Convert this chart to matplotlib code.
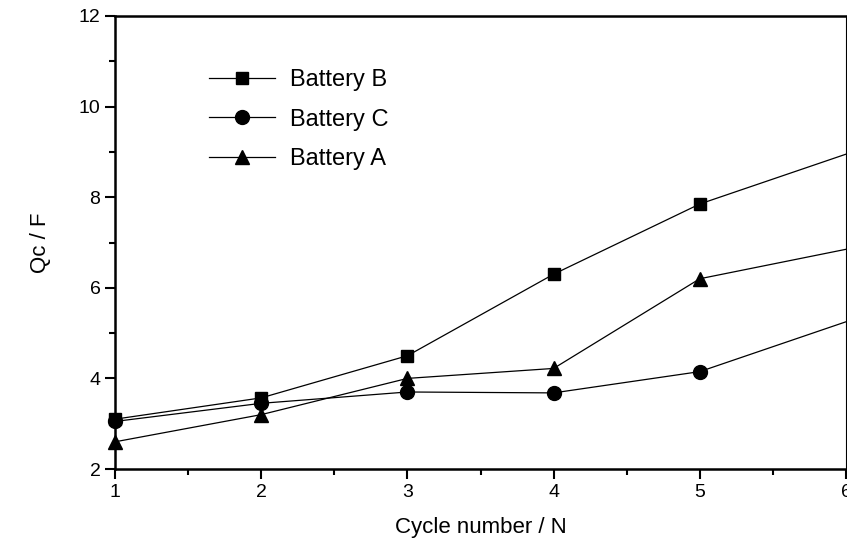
import matplotlib
matplotlib.use("Agg")
import matplotlib.pyplot as plt
from matplotlib.ticker import MultipleLocator

plt.rcParams['font.family'] = ['Liberation Sans', 'DejaVu Sans']

# Data
cycles = [1, 2, 3, 4, 5, 6]
battery_b = [3.10, 3.57, 4.50, 6.30, 7.85, 8.95]
battery_c = [3.05, 3.45, 3.70, 3.68, 4.15, 5.25]
battery_a = [2.60, 3.20, 4.00, 4.22, 6.20, 6.85]

fig = plt.figure(figsize=(8.47, 5.47), dpi=100)
ax = fig.add_axes([115 / 847, 78 / 547, 731 / 847, 453 / 547])

common = dict(color='black', lw=0.9, markevery=slice(0, 5), clip_on=False)
ax.plot(cycles, battery_b, marker='s', ms=9, label='Battery B', **common)
ax.plot(cycles, battery_c, marker='o', ms=10, label='Battery C', **common)
ax.plot(cycles, battery_a, marker='^', ms=10, label='Battery A', **common)

ax.set_xlim(1, 6)
ax.set_ylim(2, 12)
ax.xaxis.set_major_locator(MultipleLocator(1))
ax.xaxis.set_minor_locator(MultipleLocator(0.5))
ax.yaxis.set_major_locator(MultipleLocator(2))
ax.yaxis.set_minor_locator(MultipleLocator(1))
ax.tick_params(which='both', direction='out', width=1.5, labelsize=14)
ax.tick_params(which='major', length=7)
ax.tick_params(which='minor', length=4)
for side in ['left', 'bottom', 'top']:
    ax.spines[side].set_linewidth(1.8)
ax.spines['right'].set_linewidth(0.8)

ax.set_xlabel('Cycle number / N', fontsize=16, labelpad=12)
ax.set_ylabel('Qc / F', fontsize=16, labelpad=20)

ax.legend(loc='upper left', bbox_to_anchor=(0.1, 0.93), frameon=False,
          fontsize=17, handlelength=2.8, labelspacing=0.75, handletextpad=0.6)

fig.savefig('out.png', dpi=100)
